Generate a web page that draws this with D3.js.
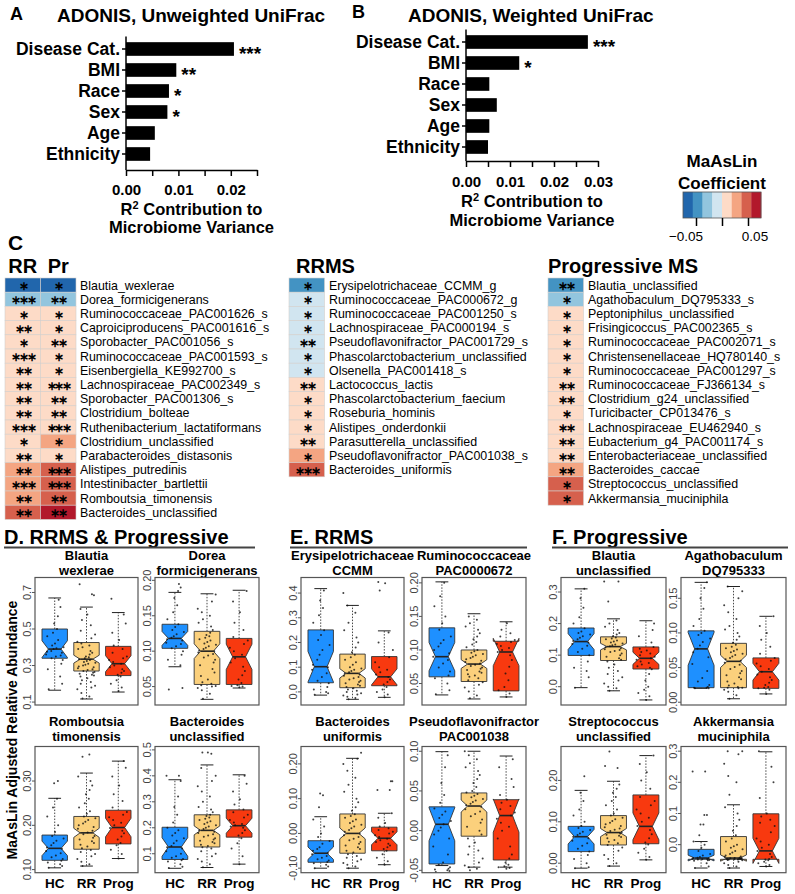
<!DOCTYPE html>
<html><head><meta charset="utf-8">
<script src="https://cdn.jsdelivr.net/npm/d3@7/dist/d3.min.js"></script>
<style>
html,body{margin:0;padding:0;background:#fff;}
svg{display:block;}
text{font-family:"Liberation Sans",Arial,Helvetica,sans-serif;}
</style></head><body>
<svg id="fig" width="795" height="894" viewBox="0 0 795 894"></svg>
<script>
// ================= DATA =================
const adonisFactors = ["Disease Cat.","BMI","Race","Sex","Age","Ethnicity"];
const unweightedR2  = [0.0206,0.0096,0.0082,0.0079,0.0055,0.0046];
const unweightedSig = ["***","**","*","*","",""];
const weightedR2    = [0.0277,0.0121,0.0053,0.0070,0.0053,0.0050];
const weightedSig   = ["***","*","","","",""];
const unweightedTicks = [0,0.01,0.02];
const unweightedMinor = [0.005,0.015,0.025];
const weightedTicks = [0,0.01,0.02,0.03];
const weightedMinor = [0.005,0.015,0.025];

const legendBreaks = [-0.05625,-0.0375,-0.01875,0,0.01875,0.0375,0.05625];
const legendColors = ["#2166ac","#4393c3","#92c5de","#d1e5f0","#fddbc7","#f4a582","#d6604d","#b2182b"];
const legendTicks  = [-0.05,0,0.05];

const sharedTaxa = ["Blautia_wexlerae","Dorea_formicigenerans","Ruminococcaceae_PAC001626_s","Caproiciproducens_PAC001616_s","Sporobacter_PAC001056_s","Ruminococcaceae_PAC001593_s","Eisenbergiella_KE992700_s","Lachnospiraceae_PAC002349_s","Sporobacter_PAC001306_s","Clostridium_bolteae","Ruthenibacterium_lactatiformans","Clostridium_unclassified","Parabacteroides_distasonis","Alistipes_putredinis","Intestinibacter_bartlettii","Romboutsia_timonensis","Bacteroides_unclassified"];
const sharedCoefRR = [-0.065,-0.028,0.01,0.01,0.01,0.01,0.01,0.01,0.01,0.01,0.01,0.01,0.01,0.028,0.028,0.028,0.045];
const sharedCoefPr = [-0.065,-0.028,0.01,0.01,0.01,0.01,0.01,0.01,0.01,0.01,0.01,0.028,0.01,0.045,0.045,0.045,0.065];
const sharedStarsRR = [1,3,1,2,1,3,2,2,2,2,3,1,2,2,3,2,2];
const sharedStarsPr = [1,2,1,1,2,1,1,3,2,2,3,1,1,3,3,2,2];

const rrmsTaxa = ["Erysipelotrichaceae_CCMM_g","Ruminococcaceae_PAC000672_g","Ruminococcaceae_PAC001250_s","Lachnospiraceae_PAC000194_s","Pseudoflavonifractor_PAC001729_s","Phascolarctobacterium_unclassified","Olsenella_PAC001418_s","Lactococcus_lactis","Phascolarctobacterium_faecium","Roseburia_hominis","Alistipes_onderdonkii","Parasutterella_unclassified","Pseudoflavonifractor_PAC001038_s","Bacteroides_uniformis"];
const rrmsCoef  = [-0.045,-0.01,-0.01,-0.01,-0.01,-0.01,-0.01,0.01,0.01,0.01,0.01,0.01,0.028,0.045];
const rrmsStars = [1,1,1,1,2,1,1,2,1,1,1,2,1,3];

const progTaxa = ["Blautia_unclassified","Agathobaculum_DQ795333_s","Peptoniphilus_unclassified","Frisingicoccus_PAC002365_s","Ruminococcaceae_PAC002071_s","Christensenellaceae_HQ780140_s","Ruminococcaceae_PAC001297_s","Ruminococcaceae_FJ366134_s","Clostridium_g24_unclassified","Turicibacter_CP013476_s","Lachnospiraceae_EU462940_s","Eubacterium_g4_PAC001174_s","Enterobacteriaceae_unclassified","Bacteroides_caccae","Streptococcus_unclassified","Akkermansia_muciniphila"];
const progCoef  = [-0.045,-0.028,0.01,0.01,0.01,0.01,0.01,0.01,0.01,0.01,0.01,0.01,0.01,0.028,0.045,0.045];
const progStars = [2,1,1,1,1,1,1,2,2,1,2,2,2,2,1,1];

const boxGroups = ["HC","RR","Prog"];
const boxGroupN = [30,130,33];

const bwexTitle = ["Blautia","wexlerae"];
const bwexRange = [0.084,0.782];
const bwexTicks = [0.1,0.3,0.5,0.7];
const bwexStats = [[0.165,0.34,0.39,0.50,0.67],[0.117,0.27,0.335,0.426,0.62],[0.155,0.245,0.31,0.405,0.59]];
const bwexPts = [
 [0.17,0.2,0.24,0.28,0.31,0.33,0.34,0.35,0.355,0.36,0.37,0.375,0.38,0.39,0.395,0.40,0.41,0.42,0.44,0.46,0.48,0.50,0.53,0.57,0.62,0.66],
 [0.12,0.13,0.15,0.17,0.18,0.19,0.2,0.21,0.22,0.23,0.24,0.245,0.25,0.255,0.26,0.265,0.27,0.275,0.28,0.285,0.29,0.295,0.3,0.305,0.31,0.315,0.32,0.325,0.33,0.335,0.34,0.345,0.35,0.36,0.37,0.38,0.39,0.40,0.41,0.42,0.43,0.45,0.47,0.49,0.52,0.55,0.58,0.61,0.685,0.69,0.745],
 [0.16,0.18,0.2,0.22,0.24,0.25,0.26,0.27,0.28,0.29,0.3,0.31,0.32,0.33,0.34,0.35,0.37,0.39,0.41,0.44,0.48,0.53,0.58,0.665]];

const dforTitle = ["Dorea","formicigenerans"];
const dforRange = [0.024,0.204];
const dforTicks = [0.05,0.10,0.15,0.20];
const dforStats = [[0.078,0.104,0.118,0.138,0.183],[0.032,0.053,0.10,0.128,0.181],[0.048,0.053,0.092,0.118,0.186]];
const dforPts = [
 [0.046,0.048,0.08,0.088,0.095,0.1,0.104,0.107,0.11,0.112,0.115,0.117,0.119,0.121,0.124,0.127,0.13,0.134,0.138,0.145,0.155,0.165,0.175,0.185,0.19,0.195],
 [0.033,0.04,0.045,0.048,0.05,0.051,0.052,0.054,0.056,0.06,0.065,0.07,0.075,0.08,0.084,0.088,0.091,0.094,0.096,0.098,0.1,0.101,0.103,0.105,0.107,0.109,0.111,0.113,0.115,0.117,0.119,0.121,0.123,0.126,0.13,0.135,0.14,0.145,0.15,0.155,0.16,0.17,0.18],
 [0.049,0.05,0.051,0.052,0.055,0.06,0.066,0.072,0.078,0.084,0.09,0.095,0.1,0.105,0.11,0.115,0.12,0.13,0.14,0.155,0.17,0.185]];

const rtimTitle = ["Romboutsia","timonensis"];
const rtimRange = [0.093,0.378];
const rtimTicks = [0.10,0.20,0.30];
const rtimStats = [[0.104,0.121,0.148,0.178,0.261],[0.108,0.146,0.183,0.22,0.318],[0.125,0.158,0.195,0.234,0.345]];
const rtimPts = [
 [0.104,0.108,0.112,0.116,0.12,0.124,0.128,0.132,0.137,0.142,0.147,0.15,0.155,0.16,0.165,0.17,0.176,0.185,0.2,0.22,0.24,0.26,0.295,0.30],
 [0.108,0.112,0.118,0.124,0.13,0.135,0.14,0.144,0.148,0.152,0.156,0.16,0.164,0.168,0.172,0.176,0.18,0.184,0.188,0.192,0.196,0.2,0.204,0.208,0.212,0.216,0.22,0.226,0.232,0.24,0.25,0.26,0.27,0.28,0.29,0.3,0.31,0.355,0.36],
 [0.125,0.135,0.145,0.155,0.16,0.168,0.175,0.182,0.188,0.194,0.2,0.206,0.212,0.218,0.224,0.23,0.24,0.255,0.27,0.29,0.31,0.33,0.345]];

const bunTitle = ["Bacteroides","unclassified"];
const bunRange = [0.027,0.513];
const bunTicks = [0.1,0.2,0.3,0.4,0.5];
const bunStats = [[0.044,0.078,0.126,0.202,0.385],[0.047,0.126,0.19,0.25,0.442],[0.06,0.164,0.208,0.269,0.404]];
const bunPts = [
 [0.045,0.05,0.06,0.07,0.075,0.08,0.085,0.09,0.1,0.11,0.12,0.125,0.13,0.14,0.15,0.16,0.17,0.18,0.19,0.2,0.22,0.25,0.28,0.32,0.38,0.4,0.4],
 [0.048,0.06,0.07,0.08,0.09,0.1,0.11,0.12,0.125,0.13,0.135,0.14,0.145,0.15,0.155,0.16,0.165,0.17,0.175,0.18,0.185,0.19,0.195,0.2,0.205,0.21,0.215,0.22,0.225,0.23,0.235,0.24,0.245,0.25,0.26,0.27,0.28,0.3,0.32,0.34,0.36,0.38,0.4,0.43,0.485,0.49,0.49],
 [0.06,0.09,0.12,0.14,0.16,0.17,0.18,0.19,0.2,0.205,0.21,0.215,0.22,0.23,0.24,0.25,0.26,0.27,0.29,0.31,0.34,0.37,0.4]];

const eryTitle = ["Erysipelotrichaceae","CCMM"];
const eryRange = [-0.053,0.463];
const eryTicks = [0.0,0.1,0.2,0.3,0.4];
const eryStats = [[-0.013,0.037,0.102,0.251,0.418],[-0.03,0.017,0.075,0.153,0.35],[-0.022,0.025,0.061,0.143,0.247]];
const eryPts = [
 [-0.012,-0.005,0.0,0.01,0.02,0.035,0.045,0.06,0.075,0.09,0.1,0.11,0.13,0.15,0.17,0.19,0.21,0.23,0.25,0.28,0.31,0.34,0.37,0.41],
 [-0.03,-0.025,-0.02,-0.015,-0.01,-0.005,0.0,0.005,0.01,0.015,0.02,0.025,0.03,0.035,0.04,0.045,0.05,0.055,0.06,0.065,0.07,0.075,0.08,0.085,0.09,0.095,0.1,0.11,0.12,0.13,0.14,0.15,0.16,0.18,0.2,0.22,0.25,0.28,0.32,0.35,0.40],
 [-0.022,-0.01,0.0,0.01,0.02,0.03,0.04,0.05,0.06,0.07,0.08,0.09,0.1,0.12,0.14,0.17,0.2,0.24,0.41,0.44,0.445]];

const r672Title = ["Ruminococcaceae","PAC0000672"];
const r672Range = [0.018,0.208];
const r672Ticks = [0.05,0.10,0.15,0.20];
const r672Stats = [[0.033,0.06,0.09,0.133,0.2015],[0.027,0.053,0.079,0.10,0.154],[0.03,0.039,0.097,0.113,0.142]];
const r672Pts = [
 [0.034,0.04,0.05,0.058,0.062,0.068,0.074,0.08,0.085,0.09,0.095,0.1,0.105,0.11,0.115,0.12,0.13,0.14,0.15,0.165,0.18,0.2],
 [0.028,0.032,0.038,0.044,0.048,0.052,0.055,0.058,0.06,0.062,0.064,0.066,0.068,0.07,0.072,0.074,0.076,0.078,0.08,0.082,0.084,0.086,0.088,0.09,0.092,0.094,0.096,0.098,0.1,0.104,0.108,0.112,0.116,0.12,0.125,0.13,0.135,0.14,0.145,0.15],
 [0.03,0.035,0.04,0.045,0.055,0.065,0.075,0.085,0.092,0.097,0.1,0.103,0.106,0.109,0.112,0.115,0.12,0.125,0.13,0.14]];

const bufTitle = ["Bacteroides","uniformis"];
const bufRange = [-0.113,0.25];
const bufTicks = [-0.10,0.00,0.10,0.20];
const bufStats = [[-0.10,-0.083,-0.057,-0.021,0.048],[-0.10,-0.057,0.0,0.056,0.216],[-0.09,-0.05,-0.014,0.018,0.058]];
const bufPts = [
 [-0.1,-0.095,-0.09,-0.086,-0.082,-0.078,-0.074,-0.07,-0.065,-0.06,-0.056,-0.05,-0.045,-0.04,-0.03,-0.022,-0.01,0.0,0.02,0.04,0.075,0.11,0.115],
 [-0.1,-0.095,-0.09,-0.085,-0.08,-0.075,-0.07,-0.065,-0.06,-0.055,-0.05,-0.045,-0.04,-0.035,-0.03,-0.025,-0.02,-0.015,-0.01,-0.005,0.0,0.005,0.01,0.015,0.02,0.025,0.03,0.035,0.04,0.045,0.05,0.055,0.065,0.075,0.09,0.1,0.12,0.14,0.16,0.18,0.2,0.215,0.232],
 [-0.09,-0.08,-0.07,-0.06,-0.05,-0.045,-0.04,-0.035,-0.03,-0.025,-0.02,-0.015,-0.01,-0.005,0.0,0.005,0.01,0.015,0.02,0.03,0.045,0.058,0.125,0.125,0.15,0.15]];

const p1038Title = ["Pseudoflavonifractor","PAC001038"];
const p1038Range = [-0.053,0.106];
const p1038Ticks = [-0.05,0.00,0.05,0.10];
const p1038Stats = [[-0.044,-0.042,0.008,0.03,0.0995],[-0.046,-0.007,0.031,0.0475,0.10],[-0.046,-0.037,0.019,0.039,0.094]];
const p1038Pts = [
 [-0.052,-0.051,-0.05,-0.049,-0.048,-0.046,-0.043,-0.04,-0.03,-0.02,-0.01,-0.005,0.0,0.004,0.008,0.012,0.016,0.02,0.024,0.028,0.035,0.045,0.06,0.08,0.095],
 [-0.05,-0.048,-0.046,-0.044,-0.04,-0.035,-0.03,-0.025,-0.02,-0.015,-0.01,-0.005,0.0,0.005,0.01,0.014,0.018,0.021,0.024,0.027,0.03,0.032,0.034,0.036,0.038,0.04,0.042,0.044,0.046,0.048,0.05,0.055,0.06,0.065,0.07,0.075,0.08,0.085,0.09,0.095,0.1],
 [-0.048,-0.047,-0.046,-0.045,-0.043,-0.04,-0.035,-0.03,-0.02,-0.01,0.0,0.005,0.01,0.015,0.019,0.023,0.027,0.031,0.035,0.039,0.045,0.055,0.065,0.08,0.09]];

const bunclTitle = ["Blautia","unclassified"];
const bunclRange = [-0.058,0.346];
const bunclTicks = [0.0,0.1,0.2,0.3];
const bunclStats = [[-0.003,0.099,0.143,0.186,0.31],[-0.013,0.083,0.127,0.158,0.215],[-0.042,0.056,0.09,0.126,0.209]];
const bunclPts = [
 [-0.003,0.03,0.05,0.06,0.08,0.1,0.11,0.12,0.13,0.135,0.14,0.145,0.15,0.155,0.16,0.165,0.17,0.175,0.185,0.2,0.22,0.25,0.28,0.31],
 [-0.013,-0.005,0.0,0.01,0.02,0.03,0.04,0.05,0.06,0.07,0.08,0.085,0.09,0.095,0.1,0.105,0.11,0.113,0.116,0.119,0.122,0.125,0.128,0.131,0.134,0.137,0.14,0.143,0.146,0.15,0.153,0.156,0.16,0.165,0.17,0.18,0.19,0.2,0.21,0.27,0.333,0.333],
 [-0.042,-0.03,-0.02,-0.01,0.0,0.02,0.04,0.055,0.06,0.065,0.07,0.075,0.08,0.085,0.09,0.095,0.1,0.105,0.11,0.115,0.12,0.126,0.14,0.16,0.18,0.2]];

const agaTitle = ["Agathobaculum","DQ795333"];
const agaRange = [-0.004,0.18];
const agaTicks = [0.00,0.05,0.10,0.15];
const agaStats = [[0.02,0.021,0.077,0.103,0.173],[0.005,0.021,0.059,0.085,0.167],[0.012,0.02,0.044,0.064,0.124]];
const agaPts = [
 [0.02,0.02,0.021,0.021,0.022,0.025,0.03,0.035,0.045,0.055,0.065,0.072,0.077,0.082,0.087,0.092,0.097,0.1,0.103,0.11,0.12,0.135,0.15,0.165,0.173],
 [0.005,0.01,0.015,0.018,0.02,0.021,0.021,0.022,0.024,0.027,0.03,0.033,0.036,0.039,0.042,0.045,0.048,0.051,0.054,0.057,0.06,0.062,0.064,0.066,0.068,0.07,0.072,0.074,0.076,0.078,0.08,0.083,0.086,0.09,0.095,0.1,0.105,0.11,0.12,0.13,0.14,0.15,0.16,0.167],
 [0.012,0.018,0.02,0.021,0.022,0.025,0.028,0.032,0.036,0.04,0.044,0.048,0.052,0.056,0.06,0.064,0.07,0.08,0.09,0.1,0.11,0.124]];

const strTitle = ["Streptococcus","unclassified"];
const strRange = [-0.023,0.282];
const strTicks = [0.00,0.10,0.20];
const strStats = [[-0.012,0.028,0.064,0.089,0.176],[-0.007,0.044,0.074,0.115,0.198],[0.008,0.047,0.089,0.165,0.26]];
const strPts = [
 [-0.012,-0.01,0.0,0.01,0.02,0.028,0.035,0.042,0.048,0.054,0.06,0.064,0.068,0.072,0.076,0.08,0.085,0.09,0.1,0.115,0.13,0.15,0.17,0.21],
 [-0.007,0.0,0.01,0.02,0.03,0.038,0.044,0.048,0.052,0.056,0.06,0.063,0.066,0.069,0.072,0.075,0.078,0.081,0.084,0.087,0.09,0.094,0.098,0.102,0.106,0.11,0.115,0.12,0.13,0.14,0.15,0.16,0.17,0.18,0.19,0.23,0.235,0.27],
 [0.008,0.015,0.025,0.035,0.045,0.05,0.06,0.07,0.08,0.09,0.1,0.11,0.12,0.13,0.14,0.15,0.16,0.18,0.2,0.22,0.24,0.26]];

const akkTitle = ["Akkermansia","muciniphila"];
const akkRange = [-0.09,0.315];
const akkTicks = [0.0,0.1,0.2,0.3];
const akkStats = [[-0.075,-0.047,-0.043,-0.015,0.01],[-0.075,-0.047,-0.043,0.026,0.128],[-0.07,-0.047,-0.02,0.099,0.298]];
const akkPts = [
 [-0.075,-0.07,-0.06,-0.052,-0.05,-0.049,-0.048,-0.047,-0.046,-0.045,-0.044,-0.043,-0.042,-0.04,-0.035,-0.03,-0.02,-0.01,0.0,0.01,0.03,0.065,0.065,0.095,0.095,0.235,0.235],
 [-0.075,-0.07,-0.065,-0.06,-0.055,-0.05,-0.049,-0.048,-0.048,-0.047,-0.047,-0.046,-0.046,-0.045,-0.045,-0.044,-0.044,-0.043,-0.042,-0.04,-0.038,-0.035,-0.03,-0.025,-0.02,-0.015,-0.01,-0.005,0.0,0.01,0.02,0.03,0.045,0.06,0.08,0.1,0.12,0.16,0.2,0.22,0.26,0.29,0.3,0.3],
 [-0.07,-0.065,-0.06,-0.055,-0.05,-0.048,-0.046,-0.04,-0.03,-0.02,-0.01,0.0,0.01,0.02,0.04,0.06,0.07,0.08,0.09,0.1,0.15,0.2,0.25,0.3]];

// ================= DRAWING =================
const svg = d3.select("#fig");
const FONT = '"Liberation Sans",Arial,Helvetica,sans-serif';
svg.append("rect").attr("width",795).attr("height",894).attr("fill","#fff");

function txt(g,x,y,s,size,weight,anchor){
  return g.append("text").attr("x",x).attr("y",y).attr("font-size",size)
    .attr("font-weight",weight||"normal").attr("text-anchor",anchor||"start").attr("fill","#000").text(s);
}

function drawAdonis(o){
  const g = svg.append("g");
  const x = d3.scaleLinear().domain([0,o.max]).range([o.x0,o.x1]);
  const y = d3.scaleBand().domain(adonisFactors).range([o.yTop,o.yTop+126]).paddingInner(0.35).paddingOuter(0.175);
  g.selectAll("rect.bar").data(o.vals).join("rect").attr("class","bar")
    .attr("x",x(0)).attr("y",(d,i)=>y(adonisFactors[i])).attr("width",d=>x(d)-x(0))
    .attr("height",y.bandwidth()).attr("fill","#000");
  g.selectAll("text.sig").data(o.sig).join("text").attr("class","sig")
    .attr("x",(d,i)=>x(o.vals[i])+5).attr("y",(d,i)=>y(adonisFactors[i])+y.bandwidth()/2+11)
    .attr("font-size",19).attr("font-weight","bold").text(d=>d);
  const ya = g.append("g").attr("transform",`translate(${o.x0},0)`)
    .call(d3.axisLeft(y).tickSize(4).tickPadding(2));
  ya.select(".domain").remove();
  ya.selectAll("line").attr("stroke","#000").attr("stroke-width",1.5);
  ya.selectAll("text").attr("font-family",FONT).attr("font-size",17.5).attr("font-weight","bold").attr("fill","#000");
  g.append("line").attr("x1",o.x0).attr("x2",o.x0).attr("y1",o.yTop-2).attr("y2",o.axisY)
    .attr("stroke","#000").attr("stroke-width",1.5);
  const xa = g.append("g").attr("transform",`translate(0,${o.axisY})`)
    .call(d3.axisBottom(x).tickValues(o.ticks).tickFormat(d3.format(".2f")).tickSize(6).tickSizeOuter(0).tickPadding(o.pad));
  xa.select(".domain").attr("stroke","#000").attr("stroke-width",1.5);
  xa.selectAll("line").attr("stroke","#000").attr("stroke-width",1.5);
  xa.selectAll("text").attr("font-family",FONT).attr("font-size",15).attr("font-weight","bold").attr("fill","#000");
  const xm = g.append("g").attr("transform",`translate(0,${o.axisY})`)
    .call(d3.axisBottom(x).tickValues(o.minors).tickFormat("").tickSize(6).tickSizeOuter(0));
  xm.select(".domain").remove();
  xm.selectAll("line").attr("stroke","#000").attr("stroke-width",1.5);
  const cx = (o.x0+o.x1)/2;
  const t1 = g.append("text").attr("x",cx).attr("y",o.axisY+o.t1).attr("text-anchor","middle")
    .attr("font-size",16.5).attr("font-weight","bold");
  t1.append("tspan").text("R");
  t1.append("tspan").attr("dy",-6).attr("font-size",11).text("2");
  t1.append("tspan").attr("dy",6).text(" Contribution to");
  t1.append("tspan").attr("x",cx).attr("dy",o.t2-o.t1).text("Microbiome Variance");
  txt(g,o.letterX,o.letterY,o.letter,18,"bold");
  txt(g,o.titleX,22,o.title,19,"bold");
}

drawAdonis({x0:126,x1:257,max:0.025,yTop:38.5,axisY:170,vals:unweightedR2,sig:unweightedSig,
  ticks:unweightedTicks,minors:unweightedMinor,pad:8,t1:45,t2:63,letter:"A",letterX:10,letterY:20,
  title:"ADONIS, Unweighted UniFrac",titleX:57});
drawAdonis({x0:466,x1:598,max:0.03,yTop:31.5,axisY:161,vals:weightedR2,sig:weightedSig,
  ticks:weightedTicks,minors:weightedMinor,pad:9,t1:46,t2:65,letter:"B",letterX:352,letterY:18,
  title:"ADONIS, Weighted UniFrac",titleX:408});

const heatColor = d3.scaleThreshold().domain(legendBreaks).range(legendColors);
(function(){
  const g = svg.append("g");
  const lx = d3.scaleLinear().domain([-0.075,0.075]).range([683,761]);
  const step = 0.15/legendColors.length;
  g.selectAll("rect.lg").data(legendColors).join("rect").attr("class","lg")
    .attr("x",(d,i)=>lx(-0.075+i*step)).attr("y",192).attr("width",lx(step)-lx(0)+0.3).attr("height",26)
    .attr("fill",(d,i)=>heatColor(-0.075+(i+0.5)*step));
  g.append("rect").attr("x",683).attr("y",192).attr("width",78).attr("height",26)
    .attr("fill","none").attr("stroke","#555").attr("stroke-width",0.8);
  const ax = g.append("g").attr("transform","translate(0,218)")
    .call(d3.axisBottom(lx).tickValues(legendTicks).tickSize(8).tickFormat(""));
  ax.select(".domain").remove();
  ax.selectAll("line").attr("stroke","#000").attr("stroke-width",1.5);
  legendTicks.filter(t=>t!==0).forEach(t=>{
    txt(g,lx(t)+(t<0?-10:7),241,(t<0?"\u22120.05":"0.05"),13.5,"normal","middle");
  });
  txt(g,722,167,"MaAsLin",17,"bold","middle");
  txt(g,722,189,"Coefficient",17,"bold","middle");
})();

function drawHeat(x0,taxa,cols,coefs,stars,labelX){
  const g = svg.append("g");
  const y = d3.scaleBand().domain(taxa).range([278,278+taxa.length*14.2]);
  const x = d3.scaleBand().domain(cols).range([x0,x0+35.5*cols.length]);
  cols.forEach((c,ci)=>{
    taxa.forEach((t,ri)=>{
      g.append("rect").attr("x",x(c)).attr("y",y(t)).attr("width",x.bandwidth()).attr("height",y.bandwidth())
        .attr("fill",heatColor(coefs[ci][ri])).attr("stroke","#d4cfcc").attr("stroke-width",0.6);
      g.append("text").attr("x",x(c)+x.bandwidth()/2).attr("y",y(t)+y.bandwidth()/2+5)
        .attr("text-anchor","middle").attr("font-family","DejaVu Sans").attr("font-weight","bold")
        .attr("font-size",11.5).attr("letter-spacing",-2.2).attr("fill","#000")
        .text("\u2217".repeat(stars[ci][ri]));
    });
  });
  taxa.forEach(t=>{
    g.append("text").attr("x",labelX).attr("y",y(t)+y.bandwidth()/2+4.4).attr("font-size",12.4)
      .attr("fill","#000").text(t);
  });
}
txt(svg,8,250,"C",21,"bold");
txt(svg,22.75,273,"RR",20,"bold","middle");
txt(svg,58.25,273,"Pr",20,"bold","middle");
drawHeat(5,sharedTaxa,["RR","Pr"],[sharedCoefRR,sharedCoefPr],[sharedStarsRR,sharedStarsPr],80);
txt(svg,296,273,"RRMS",20,"bold");
drawHeat(289,rrmsTaxa,["RRMS"],[rrmsCoef],[rrmsStars],329);
txt(svg,548,273,"Progressive MS",20,"bold");
drawHeat(548,progTaxa,["Prog"],[progCoef],[progStars],588);

const boxFill = ["#1E90FF","#FBD07C","#F8390F"];
const frameCols = [[35,138],[155,259],[301,404],[422,526],[561,666],[681,786]];
const frameRows = [[577.5,705],[746.5,872.7]];
const JIT = [-0.21,0.14,-0.04,0.26,-0.29,0.06,0.19,-0.14,0.31,-0.24,0.1,-0.09,0.23,-0.18,0.01,0.28,-0.32,0.12,-0.11,0.17,-0.26,0.04,0.3,-0.06,0.21,-0.2,0.08,-0.3,0.15,-0.02,0.25,-0.16,0.11,-0.27,0.03,0.2,-0.12];

function fmtTick(d,dec){ return (d<0?"-":"")+Math.abs(d).toFixed(dec); }

function drawBoxPanel(col,row,title,range,ticks,dec,stats,pts){
  const [L,R] = frameCols[col], [T,B] = frameRows[row];
  const g = svg.append("g");
  const x = d3.scaleLinear().domain([0.38,3.62]).range([L,R]);
  const y = d3.scaleLinear().domain(range).range([B,T]);
  const cxT = (L+R)/2;
  const tb = row===0 ? 560 : 726;
  txt(g,cxT,tb,title[0],13,"bold","middle");
  txt(g,cxT,tb+14.8,title[1],13,"bold","middle");
  stats.forEach((st,gi)=>{
    const cx = gi+1;
    const [wl,q1,med,q3,wh] = st;
    const nd = 1.58*(q3-q1)/Math.sqrt(boxGroupN[gi]);
    const nlo = med-nd, nhi = med+nd, hw = 0.4, nw = 0.2;
    [[q3,wh],[q1,wl]].forEach(([a,b])=>{
      g.append("line").attr("x1",x(cx)).attr("x2",x(cx)).attr("y1",y(a)).attr("y2",y(b))
        .attr("stroke","#333").attr("stroke-width",0.9).attr("stroke-dasharray","1.5,1.5");
      g.append("line").attr("x1",x(cx-0.2)).attr("x2",x(cx+0.2)).attr("y1",y(b)).attr("y2",y(b))
        .attr("stroke","#222").attr("stroke-width",1);
    });
    const poly = [[cx-hw,q1],[cx-hw,nlo],[cx-nw,med],[cx-hw,nhi],[cx-hw,q3],[cx+hw,q3],[cx+hw,nhi],[cx+nw,med],[cx+hw,nlo],[cx+hw,q1]];
    g.append("polygon").attr("points",poly.map(p=>x(p[0])+","+y(p[1])).join(" "))
      .attr("fill",boxFill[gi]).attr("stroke","#333").attr("stroke-width",0.9);
    g.append("line").attr("x1",x(cx-nw)).attr("x2",x(cx+nw)).attr("y1",y(med)).attr("y2",y(med))
      .attr("stroke","#222").attr("stroke-width",1.6);
    pts[gi].forEach((v,i)=>{
      g.append("circle").attr("cx",x(cx+JIT[(i*3+gi*7)%JIT.length]*0.9)).attr("cy",y(v)).attr("r",1.0)
        .attr("fill","#111").attr("fill-opacity",0.8);
    });
  });
  g.append("rect").attr("x",L).attr("y",T).attr("width",R-L).attr("height",B-T)
    .attr("fill","none").attr("stroke","#555").attr("stroke-width",1.2);
  ticks.forEach(t=>{
    g.append("line").attr("x1",L-3).attr("x2",L).attr("y1",y(t)).attr("y2",y(t)).attr("stroke","#555");
    g.append("text").attr("transform",`translate(${L-4},${y(t)}) rotate(-90)`).attr("text-anchor","middle")
      .attr("font-size",11).attr("fill","#444").text(fmtTick(t,dec));
  });
  if(row===1){
    boxGroups.forEach((grp,gi)=>txt(g,x(gi+1),888,grp,13.5,"bold","middle"));
  }
}

drawBoxPanel(0,0,bwexTitle,bwexRange,bwexTicks,1,bwexStats,bwexPts);
drawBoxPanel(1,0,dforTitle,dforRange,dforTicks,2,dforStats,dforPts);
drawBoxPanel(0,1,rtimTitle,rtimRange,rtimTicks,2,rtimStats,rtimPts);
drawBoxPanel(1,1,bunTitle,bunRange,bunTicks,1,bunStats,bunPts);
drawBoxPanel(2,0,eryTitle,eryRange,eryTicks,1,eryStats,eryPts);
drawBoxPanel(3,0,r672Title,r672Range,r672Ticks,2,r672Stats,r672Pts);
drawBoxPanel(2,1,bufTitle,bufRange,bufTicks,2,bufStats,bufPts);
drawBoxPanel(3,1,p1038Title,p1038Range,p1038Ticks,2,p1038Stats,p1038Pts);
drawBoxPanel(4,0,bunclTitle,bunclRange,bunclTicks,1,bunclStats,bunclPts);
drawBoxPanel(5,0,agaTitle,agaRange,agaTicks,2,agaStats,agaPts);
drawBoxPanel(4,1,strTitle,strRange,strTicks,2,strStats,strPts);
drawBoxPanel(5,1,akkTitle,akkRange,akkTicks,1,akkStats,akkPts);

[["D. RRMS & Progressive",4,255],["E. RRMS",290,527],["F. Progressive",552,788]].forEach(([s,x0,x1])=>{
  txt(svg,x0,543.5,s,20,"bold");
  svg.append("line").attr("x1",x0).attr("x2",x1).attr("y1",547.5).attr("y2",547.5).attr("stroke","#444").attr("stroke-width",2);
});
svg.append("text").attr("transform","translate(17,730) rotate(-90)").attr("text-anchor","middle")
  .attr("font-size",14).attr("font-weight","bold").attr("fill","#000").text("MaAsLin Adjusted Relative Abundance");
</script></body></html>
